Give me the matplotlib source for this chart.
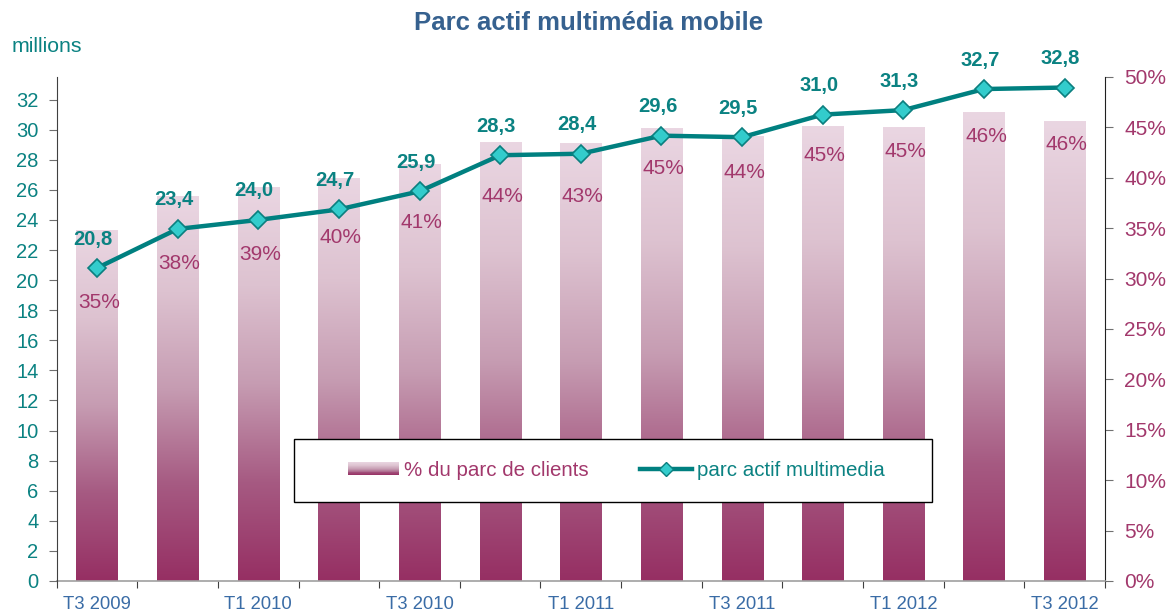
import numpy as np
import matplotlib
matplotlib.use('Agg')
import matplotlib.pyplot as plt
from matplotlib.colors import LinearSegmentedColormap
from matplotlib.lines import Line2D
from matplotlib.patches import Patch, Rectangle
from matplotlib.legend_handler import HandlerBase

plt.rcParams['font.family'] = ['Liberation Sans', 'DejaVu Sans']

# data
quarters = ['T3 2009', 'T4 2009', 'T1 2010', 'T2 2010', 'T3 2010', 'T4 2010', 'T1 2011',
            'T2 2011', 'T3 2011', 'T4 2011', 'T1 2012', 'T2 2012', 'T3 2012']
parc_actif = [20.8, 23.4, 24.0, 24.7, 25.9, 28.3, 28.4, 29.6, 29.5, 31.0, 31.3, 32.7, 32.8]
pct_clients = [34.8, 38.1, 39.0, 39.9, 41.3, 43.5, 43.4, 44.9, 44.1, 45.1, 45.0, 46.5, 45.6]
pct_labels = ['35%', '38%', '39%', '40%', '41%', '44%', '43%', '45%', '44%', '45%', '45%', '46%', '46%']

# label placement (pixels below the line marker), as in the original slide
pct_label_dy = [34, 35, 35, 28, 31, 41, 43, 33, 35, 41, 41, 47, 57]

teal = '#0B8282'
maroon = '#A2386C'
blue_txt = '#3A6CA6'
bar_cmap = LinearSegmentedColormap.from_list(
    'bars', [(0.0, '#962F63'), (0.25, '#A65A82'), (0.5, '#C69CB2'),
             (0.75, '#DDC2D0'), (1.0, '#EAD6E2')])


class GradientHandler(HandlerBase):
    def create_artists(self, legend, orig_handle, xdescent, ydescent,
                       width, height, fontsize, trans):
        n = 14
        out = []
        for i in range(n):
            r = Rectangle((-xdescent, -ydescent + i * height / n), width, height / n + 0.3,
                          facecolor=bar_cmap((i + 0.5) / n), edgecolor='none', transform=trans)
            out.append(r)
        return out


fig = plt.figure(figsize=(11.68, 6.12), dpi=100)
ax2 = fig.add_axes([56.6 / 1168, 1 - 581 / 612, (1105 - 56.6) / 1168, (581 - 77) / 612])
ax = ax2.twinx()
ax.yaxis.tick_left()
ax2.yaxis.tick_right()
ax.set_zorder(ax2.get_zorder() + 1)
ax.patch.set_visible(False)

x = np.arange(len(quarters))
width = 0.51
grad = np.linspace(0, 1, 256).reshape(-1, 1)
for xi, h in zip(x, pct_clients):
    ax2.imshow(grad, cmap=bar_cmap, origin='lower', aspect='auto',
               extent=[xi - width / 2, xi + width / 2, 0, h], interpolation='bilinear', zorder=2)

ax2.set_xlim(-0.5, len(quarters) - 0.5)
ax2.set_ylim(0, 50)
ax2.set_yticks(np.arange(0, 51, 5))
ax2.set_yticklabels([f'{v}%' for v in range(0, 51, 5)])

ax.plot(x, parc_actif, color='#008080', lw=3.2, marker='D', ms=9,
        mfc='#33CCCC', mec='#0B7F7F', mew=1.2, zorder=5)
ax.set_ylim(0, 33.5)
ax.set_yticks(np.arange(0, 33, 2))
ax.set_xlim(-0.5, len(quarters) - 0.5)

for xi, v, lab, dy in zip(x, parc_actif, pct_labels, pct_label_dy):
    ax.annotate(f'{v:.1f}'.replace('.', ','), (xi, v), xytext=(-4, 29), textcoords='offset pixels',
                ha='center', va='center', fontsize=14.5, fontweight='bold', color=teal, zorder=6)
    ax.annotate(lab, (xi, v), xytext=(2, -dy), textcoords='offset pixels',
                ha='center', va='center', fontsize=15, color=maroon, zorder=4)

# x axis: ticks at category boundaries, labels every other quarter
ax2.set_xticks(np.arange(-0.5, len(quarters), 1))
ax2.set_xticklabels([])
ax2.set_xticks(x, minor=True)
ax2.set_xticklabels([q if i % 2 == 0 else '' for i, q in enumerate(quarters)], minor=True)
ax2.tick_params(axis='x', which='major', length=5, color='#404040', direction='out')
ax2.tick_params(axis='x', which='minor', length=0, pad=11, labelsize=13.3, labelcolor=blue_txt)

ax.tick_params(axis='y', length=6, color='#707070', labelsize=14.5, labelcolor=teal, pad=7)
ax2.tick_params(axis='y', length=6, color='#707070', labelsize=15, labelcolor=maroon, pad=8)

for a in (ax, ax2):
    a.spines['top'].set_visible(False)
ax.spines['right'].set_visible(False)
ax.spines['bottom'].set_visible(False)
ax.spines['left'].set_color('#404040')
ax2.spines['left'].set_visible(False)
ax2.spines['right'].set_color('#202020')
ax2.spines['bottom'].set_color('#A0A0A0')
ax2.spines['bottom'].set_linewidth(1.2)

fig.text(589 / 1168, 1 - 23 / 612, 'Parc actif multimédia mobile', ha='center', va='center',
         fontsize=18.5, fontweight='bold', color='#36618F')
fig.text(12 / 1168, 1 - 47 / 612, 'millions', ha='left', va='center', fontsize=15.3, color=teal)

# legend box
box = Rectangle((293.5 / 1168, 1 - 502 / 612), 638 / 1168, 63 / 612, transform=fig.transFigure,
                facecolor='white', edgecolor='black', lw=1.0, zorder=10)
fig.add_artist(box)
h_bar = Patch(facecolor='#C48BA8')
h_line = Line2D([], [], color='#008080', lw=3.2, marker='D', ms=7,
                mfc='#33CCCC', mec='#0B7F7F', mew=1.0)
leg = fig.legend([h_bar, h_line], ['% du parc de clients', 'parc actif multimedia'],
                 handler_map={Patch: GradientHandler()}, loc='center',
                 bbox_to_anchor=(616 / 1168, 1 - 470.5 / 612), ncol=2, frameon=False,
                 fontsize=14.8, handlelength=2.5, handleheight=0.6, handletextpad=0.25,
                 columnspacing=2.5)
leg.set_zorder(11)
for t, c in zip(leg.get_texts(), [maroon, teal]):
    t.set_color(c)

fig.savefig('out.png', dpi=100)
